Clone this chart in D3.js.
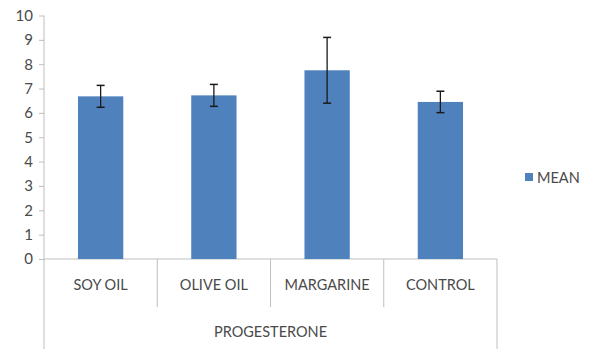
<!DOCTYPE html>
<html>
<head>
<meta charset="utf-8">
<script src="https://cdn.jsdelivr.net/npm/d3@7"></script>
<style>
  body { margin: 0; background: #fff; }
  text { font-family: Lato, 'Open Sans', sans-serif; fill: #4a4a4a; }
</style>
</head>
<body>
<div id="viz"></div>
<script>
const categories = ['SOY OIL', 'OLIVE OIL', 'MARGARINE', 'CONTROL'];
const means = [6.68, 6.72, 7.75, 6.45];
const errors = [0.45, 0.45, 1.35, 0.44];
const yTicks = [0, 1, 2, 3, 4, 5, 6, 7, 8, 9, 10];
const groupLabel = 'PROGESTERONE';
const seriesName = 'MEAN';

const width = 589;
const height = 349;
const margin = {top: 15.5, right: 92, bottom: 90, left: 44};
const barColor = '#4f81bd';
const axisColor = '#bfbfbf';

const svg = d3.select('#viz')
  .append('svg')
    .attr('width', width)
    .attr('height', height);

const xScale = d3.scaleBand()
  .domain(categories)
  .range([margin.left, width - margin.right])
  .paddingInner(0)
  .paddingOuter(0);

const yScale = d3.scaleLinear()
  .domain([0, 10])
  .range([height - margin.bottom, margin.top]);

const y0 = yScale(0);
const barW = xScale.bandwidth() * 0.4;

// y axis
const yAxis = svg.append('g')
  .attr('transform', `translate(${margin.left},0)`)
  .call(d3.axisLeft(yScale).tickValues(yTicks).tickSize(5).tickPadding(6));
yAxis.select('.domain').remove();
yAxis.selectAll('line').attr('stroke', axisColor);
yAxis.selectAll('text')
  .style('font-size', '15px')
  .style('font-family', 'Lato, sans-serif')
  .attr('fill', '#404040');

svg.append('line')
  .attr('x1', margin.left).attr('x2', margin.left)
  .attr('y1', margin.top).attr('y2', height)
  .attr('stroke', axisColor);

// x axis baseline
svg.append('line')
  .attr('x1', margin.left).attr('x2', width - margin.right)
  .attr('y1', y0).attr('y2', y0)
  .attr('stroke', axisColor);

// category dividers
categories.slice(1).forEach(c => {
  svg.append('line')
    .attr('x1', xScale(c)).attr('x2', xScale(c))
    .attr('y1', y0).attr('y2', y0 + 48)
    .attr('stroke', axisColor);
});
svg.append('line')
  .attr('x1', width - margin.right).attr('x2', width - margin.right)
  .attr('y1', y0).attr('y2', height)
  .attr('stroke', axisColor);

// bars
svg.append('g').selectAll('rect').data(categories).join('rect')
  .attr('x', d => xScale(d) + (xScale.bandwidth() - barW) / 2)
  .attr('y', (d, i) => yScale(means[i]))
  .attr('width', barW)
  .attr('height', (d, i) => y0 - yScale(means[i]))
  .attr('fill', barColor);

// error bars
const eb = svg.append('g').selectAll('g').data(categories).join('g')
  .attr('transform', d => `translate(${xScale(d) + xScale.bandwidth() / 2},0)`);
eb.append('line')
  .attr('y1', (d, i) => yScale(means[i] + errors[i]))
  .attr('y2', (d, i) => yScale(means[i] - errors[i]))
  .attr('stroke', '#1a1a1a').attr('stroke-width', 1.3);
[1, -1].forEach(s => {
  eb.append('line')
    .attr('x1', -4).attr('x2', 4)
    .attr('y1', (d, i) => yScale(means[i] + s * errors[i]))
    .attr('y2', (d, i) => yScale(means[i] + s * errors[i]))
    .attr('stroke', '#1a1a1a').attr('stroke-width', 1.5);
});

// category labels
svg.append('g').selectAll('text').data(categories).join('text')
  .attr('x', d => xScale(d) + xScale.bandwidth() / 2)
  .attr('y', y0 + 31)
  .attr('text-anchor', 'middle')
  .style('font-size', '14.5px')
  .text(d => d);

svg.append('text')
  .attr('x', (margin.left + width - margin.right) / 2)
  .attr('y', y0 + 78)
  .attr('text-anchor', 'middle')
  .style('font-size', '14.5px')
  .text(groupLabel);

// legend
const legend = svg.append('g').attr('transform', 'translate(525,173)');
legend.append('rect')
  .attr('width', 8).attr('height', 8)
  .attr('fill', barColor);
legend.append('text')
  .attr('x', 12).attr('y', 9.5)
  .style('font-size', '14.5px')
  .text(seriesName);
</script>
</body>
</html>
